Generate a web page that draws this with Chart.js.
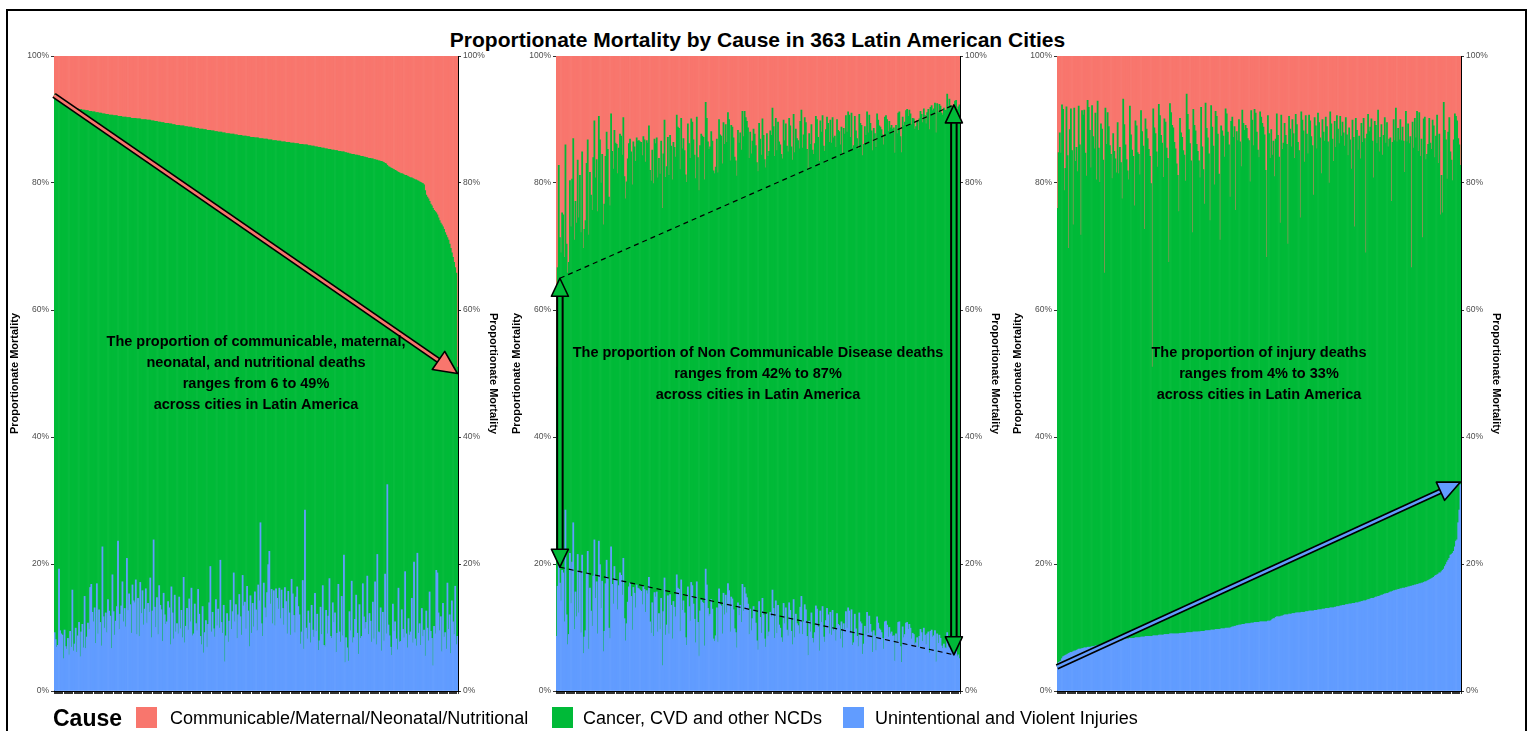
<!DOCTYPE html>
<html>
<head>
<meta charset="utf-8">
<title>Proportionate Mortality by Cause</title>
<script src="https://cdn.jsdelivr.net/npm/chart.js@4.4.1/dist/chart.umd.min.js"></script>
<style>
  html, body { margin: 0; padding: 0; background: #fff; }
  body { width: 1535px; height: 731px; position: relative; overflow: hidden; font-family: "Liberation Sans", Arial, sans-serif; }
  #frame { position: absolute; left: 6px; top: 9px; width: 1517px; height: 760px; border: 2px solid #000; }
  #title { position: absolute; left: 0; top: 27px; width: 1515px; text-align: center; font-size: 21px; font-weight: bold; line-height: 25px; }
  canvas { position: absolute; top: 0; }
  .legend-title { position: absolute; left: 53px; top: 705px; font-size: 23px; font-weight: bold; line-height: 26px; }
  .key { position: absolute; top: 707px; width: 21px; height: 21px; }
  .key-label { position: absolute; top: 707px; font-size: 18px; line-height: 22px; white-space: nowrap; }
</style>
</head>
<body>
<div id="frame"></div>
<div id="title">Proportionate Mortality by Cause in 363 Latin American Cities</div>
<canvas id="panelComm" width="492" height="731" style="left:10px"></canvas>
<canvas id="panelNcd" width="492" height="731" style="left:512px"></canvas>
<canvas id="panelInj" width="492" height="731" style="left:1013px"></canvas>
<div id="legend"></div>
<script>
const CAUSES = ['Communicable/Maternal/Neonatal/Nutritional', 'Cancer, CVD and other NCDs', 'Unintentional and Violent Injuries'];
const COLORS = ['#F8766D', '#00BA38', '#619CFF'];
const Y_TICKS = [0, 20, 40, 60, 80, 100];

// share of deaths per city (%), cities listed from lowest to highest communicable share
const commPct = [
  6.0, 6.8, 7.0, 7.1, 7.3, 7.4, 7.5, 7.6, 7.7, 7.8, 7.8, 7.9, 7.9, 8.0,
  8.1, 8.1, 8.2, 8.2, 8.2, 8.3, 8.3, 8.3, 8.4, 8.4, 8.4, 8.5,
  8.5, 8.5, 8.6, 8.6, 8.6, 8.7, 8.7, 8.7, 8.8, 8.8, 8.8, 8.9, 8.9, 8.9, 9.0,
  9.0, 9.0, 9.1, 9.1, 9.1, 9.2, 9.2, 9.2, 9.3, 9.3, 9.3, 9.3, 9.4, 9.4, 9.4,
  9.4, 9.5, 9.5, 9.5, 9.5, 9.6, 9.6, 9.6, 9.6, 9.7, 9.7, 9.7, 9.7, 9.8, 9.8, 9.8, 9.8, 9.8, 9.9, 9.9, 9.9, 9.9, 10.0, 10.0, 10.0, 10.0, 10.0, 10.1, 10.1, 10.1,
  10.1, 10.2, 10.2, 10.2, 10.3, 10.3, 10.3, 10.4, 10.4, 10.4, 10.5, 10.5, 10.5, 10.6, 10.6, 10.6, 10.6, 10.7, 10.7, 10.7, 10.8, 10.8, 10.8, 10.9, 10.9, 10.9, 10.9, 11.0, 11.0,
  11.0, 11.0, 11.1, 11.1, 11.1, 11.2, 11.2, 11.2, 11.2, 11.3, 11.3, 11.3, 11.4, 11.4, 11.4, 11.5, 11.5, 11.5, 11.5, 11.6, 11.6, 11.6, 11.7, 11.7, 11.7, 11.7, 11.8, 11.8, 11.8, 11.9, 11.9,
  11.9, 12.0, 12.0, 12.0, 12.0, 12.1, 12.1, 12.1, 12.2, 12.2, 12.2, 12.2, 12.3, 12.3, 12.3, 12.3, 12.4, 12.4, 12.4, 12.5, 12.5, 12.5, 12.5, 12.6, 12.6, 12.6, 12.6, 12.7, 12.7,
  12.7, 12.8, 12.8, 12.8, 12.8, 12.9, 12.9, 12.9, 12.9, 13.0, 13.0, 13.0, 13.0, 13.1, 13.1, 13.1, 13.1, 13.2, 13.2, 13.2, 13.2, 13.3, 13.3, 13.3, 13.3, 13.4, 13.4, 13.4, 13.4, 13.5,
  13.5, 13.5, 13.5, 13.6, 13.6, 13.6, 13.6, 13.7, 13.7, 13.7, 13.7, 13.8, 13.8, 13.8, 13.8, 13.9, 13.9, 13.9, 13.9, 14.0, 14.0, 14.0, 14.0, 14.1, 14.1, 14.1, 14.2, 14.2, 14.2, 14.3,
  14.3, 14.3, 14.4, 14.4, 14.4, 14.5, 14.5, 14.5, 14.6, 14.6, 14.6, 14.7, 14.7, 14.7, 14.8, 14.8, 14.8, 14.9, 14.9, 14.9, 15.0, 15.0, 15.0, 15.1, 15.1, 15.1, 15.2, 15.2, 15.3, 15.3,
  15.4, 15.4, 15.5, 15.5, 15.5, 15.6, 15.6, 15.6, 15.7, 15.7, 15.8, 15.8, 15.8, 15.9, 15.9, 16.0, 16.0, 16.1,
  16.1, 16.1, 16.2, 16.2, 16.3, 16.3, 16.4, 16.4, 16.5, 16.5, 16.6, 16.6,
  16.7, 16.8, 16.9, 17.0, 17.2, 17.4, 17.5, 17.6, 17.7, 17.8, 17.9, 18.0,
  18.1, 18.2, 18.3, 18.4, 18.5, 18.5, 18.6, 18.7, 18.8, 18.8, 18.9, 19.0,
  19.1, 19.2, 19.2, 19.3, 19.4, 19.5, 19.5, 19.6, 19.7, 19.8, 19.9, 20.0, 20.1, 20.3,
  21.2, 21.9, 22.2, 22.5, 22.9, 23.3, 23.6, 24.0, 24.3, 24.5, 24.7, 25.0, 25.5,
  25.9, 26.3, 26.6, 26.9, 27.3, 27.8, 28.2, 28.6, 29.0, 29.6, 30.3, 31.0, 31.7, 32.5, 33.3, 34.2, 49.0
];

// injury share for the same cities, same order
const injPct = [
  9.2, 8.1, 6.9, 7.2, 19.2, 9.5, 9.0, 8.8, 5.1, 9.6, 7.0, 6.6, 8.3, 5.7, 9.4, 6.9, 15.9, 6.3, 7.4, 9.9,
  6.1, 8.7, 10.8, 5.4, 9.3, 10.5, 6.8, 14.9, 6.7, 8.5, 10.7, 9.7, 16.3, 16.8, 12.4, 10.9, 13.1, 7.5, 16.9, 9.0,
  12.8, 10.8, 7.1, 22.7, 11.7, 9.9, 12.3, 9.2, 14.4, 12.6, 11.8, 6.7, 18.3, 12.5, 8.8, 11.0, 13.3, 23.6, 9.7, 12.1,
  13.4, 17.2, 10.9, 13.0, 10.1, 20.9, 12.7, 15.3, 13.6, 9.1, 16.7, 14.2, 13.9, 17.5, 8.9, 14.6, 8.6, 17.1, 12.2, 15.8,
  10.4, 12.9, 16.1, 10.7, 13.8, 12.4, 17.8, 8.4, 12.6, 23.8, 13.2, 10.0, 14.7, 8.9, 16.6, 13.5, 12.8, 7.8, 15.4, 12.0,
  10.5, 10.9, 14.1, 13.1, 7.3, 16.4, 12.3, 8.2, 15.1, 9.3, 10.6, 9.0, 14.8, 9.8, 12.7, 8.4, 17.9, 7.6, 10.2, 13.0,
  9.6, 14.5, 10.9, 16.2, 8.7, 9.0, 13.7, 10.6, 9.5, 16.0, 12.1, 8.6, 7.3, 13.3, 6.0, 9.2, 11.1, 6.9, 10.5, 13.9,
  19.6, 9.3, 12.4, 9.8, 8.5, 14.4, 10.3, 12.9, 9.9, 20.6, 10.8, 9.1, 13.5, 4.6, 8.7, 12.2, 7.7, 11.0, 14.3, 9.7,
  12.5, 18.6, 10.9, 13.6, 8.3, 12.0, 15.2, 11.7, 8.8, 18.2, 13.4, 14.0, 9.8, 16.5, 12.6, 7.0, 15.0, 9.1, 13.8, 10.1,
  15.6, 12.8, 9.5, 16.7, 14.2, 26.5, 10.6, 8.6, 17.0, 13.1, 11.6, 15.5, 19.9, 22.0, 13.7, 16.0, 10.6, 15.8, 10.3, 16.1,
  14.6, 12.9, 16.2, 11.4, 15.9, 13.0, 10.4, 16.3, 14.1, 9.0, 15.7, 12.3, 8.8, 17.6, 15.3, 11.9, 9.2, 14.8, 16.4, 13.3,
  12.0, 7.4, 9.3, 17.4, 6.6, 28.5, 9.9, 8.2, 12.6, 10.7, 7.6, 13.5, 9.6, 8.5, 15.4, 9.4, 12.1, 6.4, 7.9, 13.2,
  8.9, 16.6, 7.2, 7.0, 12.7, 9.0, 11.8, 17.7, 8.6, 8.3, 13.9, 10.8, 12.3, 6.1, 9.1, 16.8, 9.3, 7.7, 14.9, 8.7,
  21.4, 4.5, 8.4, 6.8, 4.7, 12.5, 9.5, 17.3, 7.6, 8.4, 11.3, 15.1, 9.1, 5.8, 13.6, 8.3, 8.6, 16.9, 11.7, 9.8,
  10.8, 18.1, 8.9, 12.2, 11.0, 7.7, 14.0, 8.2, 17.2, 7.3, 21.5, 9.3, 9.2, 13.1, 6.3, 12.4, 7.9, 18.4, 9.0, 32.5,
  10.4, 8.7, 6.9, 5.6, 13.7, 9.4, 10.9, 8.2, 6.5, 16.2, 7.7, 7.8, 12.8, 9.7, 8.4, 18.8, 9.0, 6.8, 11.4, 8.8,
  9.3, 14.6, 7.6, 20.3, 8.2, 7.1, 21.7, 9.1, 10.6, 7.2, 13.0, 8.6, 9.6, 5.5, 12.6, 9.9, 7.9, 15.6, 9.4, 8.3,
  4.0, 10.2, 9.0, 19.0, 18.6, 12.3, 9.5, 11.7, 6.2, 13.8, 8.5, 9.2, 6.6, 17.0, 9.7, 12.0, 5.9, 14.2, 10.9, 8.9,
  16.5, 7.3, 8.6
];

// NCDs are whatever is left
const ncdPct = commPct.map((c, i) => 100 - c - injPct[i]);

const cityIdx = commPct.map((_, i) => i);
const byComm = cityIdx.slice().sort((a, b) => commPct[a] - commPct[b]);
const byNcd = cityIdx.slice().sort((a, b) => ncdPct[a] - ncdPct[b]);
const byInj = cityIdx.slice().sort((a, b) => injPct[a] - injPct[b]);

const FONT = '"Liberation Sans", Arial, sans-serif';
Chart.defaults.font.family = FONT;

// annotations for each panel, in (city rank, percent)
const NOTES = {
  panelComm: {
    arrows: [{from: [-0.5, 93.8], to: [362, 50], fill: COLORS[0], shaft: [6, 2.6], head: [23, 11]}],
    dashes: [],
    text: ['The proportion of communicable, maternal,', 'neonatal, and nutritional deaths', 'ranges from 6 to 49%', 'across cities in Latin America']
  },
  panelNcd: {
    arrows: [
      {from: [3, 19.5], to: [3, 65], both: true, fill: COLORS[1], shaft: [7.5, 3.5], head: [18, 8.5]},
      {from: [357, 5.7], to: [357, 92.3], both: true, fill: COLORS[1], shaft: [7.5, 3.5], head: [18, 8.5]}
    ],
    dashes: [{from: [3, 65], to: [357, 92.3]}, {from: [3, 19.5], to: [357, 5.7]}],
    text: ['The proportion of Non Communicable Disease deaths', 'ranges from 42% to 87%', 'across cities in Latin America']
  },
  panelInj: {
    arrows: [{from: [-0.5, 3.8], to: [362, 32.9], fill: COLORS[2], shaft: [6, 2.6], head: [22, 10]}],
    dashes: [],
    text: ['The proportion of injury deaths', 'ranges from 4% to 33%', 'across cities in Latin America']
  }
};

function arrowHead(ctx, tip, ang, len, half, fill) {
  const bx = tip[0] - Math.cos(ang) * len, by = tip[1] - Math.sin(ang) * len;
  const nx = -Math.sin(ang) * half, ny = Math.cos(ang) * half;
  ctx.beginPath();
  ctx.moveTo(tip[0], tip[1]);
  ctx.lineTo(bx + nx, by + ny);
  ctx.lineTo(bx - nx, by - ny);
  ctx.closePath();
  ctx.fillStyle = fill;
  ctx.fill();
  ctx.lineWidth = 1.6;
  ctx.lineJoin = 'round';
  ctx.strokeStyle = '#000';
  ctx.stroke();
}

function drawArrow(ctx, a, b, arrow) {
  const ang = Math.atan2(b[1] - a[1], b[0] - a[0]);
  const cut = arrow.head[0] * 0.85;
  const e = [b[0] - Math.cos(ang) * cut, b[1] - Math.sin(ang) * cut];
  const s = arrow.both ? [a[0] + Math.cos(ang) * cut, a[1] + Math.sin(ang) * cut] : a;
  ctx.save();
  ctx.lineCap = 'butt';
  ctx.beginPath();
  ctx.moveTo(s[0], s[1]);
  ctx.lineTo(e[0], e[1]);
  ctx.strokeStyle = '#000';
  ctx.lineWidth = arrow.shaft[0];
  ctx.stroke();
  ctx.strokeStyle = arrow.fill;
  ctx.lineWidth = arrow.shaft[1];
  ctx.stroke();
  arrowHead(ctx, b, ang, arrow.head[0], arrow.head[1], arrow.fill);
  if (arrow.both) arrowHead(ctx, a, ang + Math.PI, arrow.head[0], arrow.head[1], arrow.fill);
  ctx.restore();
}

const notesPlugin = {
  id: 'notes',
  afterDraw(chart) {
    const {ctx, chartArea: area, scales: {y}} = chart;
    const note = NOTES[chart.canvas.id];
    const n = chart.data.labels.length;
    const pt = p => [area.left + (p[0] + 0.5) * area.width / n, y.getPixelForValue(p[1])];

    ctx.save();
    ctx.setLineDash([5, 4]);
    ctx.lineWidth = 1.2;
    ctx.strokeStyle = '#000';
    note.dashes.forEach(d => {
      const a = pt(d.from), b = pt(d.to);
      ctx.beginPath();
      ctx.moveTo(a[0], a[1]);
      ctx.lineTo(b[0], b[1]);
      ctx.stroke();
    });
    ctx.restore();

    note.arrows.forEach(ar => drawArrow(ctx, pt(ar.from), pt(ar.to), ar));

    // centred text block
    ctx.save();
    ctx.font = 'bold 14.5px ' + FONT;
    ctx.fillStyle = '#000';
    ctx.textAlign = 'center';
    ctx.textBaseline = 'middle';
    const cx = (area.left + area.right) / 2;
    const cy = y.getPixelForValue(50);
    const lh = 21;
    note.text.forEach((line, k) => {
      ctx.fillText(line, cx, cy + (k - (note.text.length - 1) / 2) * lh);
    });
    ctx.restore();

    // axis titles on both sides
    ctx.save();
    ctx.font = 'bold 11px ' + FONT;
    ctx.fillStyle = '#000';
    ctx.textAlign = 'center';
    ctx.textBaseline = 'middle';
    const my = (area.top + area.bottom) / 2;
    ctx.translate(area.left - 39, my);
    ctx.rotate(-Math.PI / 2);
    ctx.fillText('Proportionate Mortality', 0, 0);
    ctx.restore();
    ctx.save();
    ctx.font = 'bold 11px ' + FONT;
    ctx.fillStyle = '#000';
    ctx.textAlign = 'center';
    ctx.textBaseline = 'middle';
    ctx.translate(area.right + 35, my);
    ctx.rotate(Math.PI / 2);
    ctx.fillText('Proportionate Mortality', 0, 0);
    ctx.restore();
  }
};

function yAxis(position) {
  return {
    position: position,
    stacked: position === 'left',
    min: 0,
    max: 100,
    z: 1,
    afterBuildTicks: s => { s.ticks = Y_TICKS.map(v => ({value: v})); },
    afterFit: s => { s.width = 44; },
    ticks: {
      callback: v => v + '%',
      color: '#4D4D4D',
      padding: 2,
      font: {size: 8.5}
    },
    grid: {display: true, drawOnChartArea: false, drawTicks: true, tickLength: 3, color: '#333333'},
    border: {display: true, color: '#000', width: 1}
  };
}

function makePanel(id, order) {
  const labels = order.map(i => String(i + 1));
  return new Chart(document.getElementById(id), {
    type: 'bar',
    data: {
      labels: labels,
      datasets: [
        {label: CAUSES[2], data: order.map(i => injPct[i]), backgroundColor: COLORS[2]},
        {label: CAUSES[1], data: order.map(i => ncdPct[i]), backgroundColor: COLORS[1]},
        {label: CAUSES[0], data: order.map(i => commPct[i]), backgroundColor: COLORS[0]}
      ]
    },
    options: {
      responsive: false,
      animation: false,
      events: [],
      layout: {padding: {top: 56, bottom: 34, left: 0, right: 0}},
      datasets: {bar: {barPercentage: 1, categoryPercentage: 1, borderWidth: 0}},
      plugins: {legend: {display: false}, tooltip: {enabled: false}, title: {display: false}},
      scales: {
        x: {
          stacked: true,
          z: 1,
          afterFit: s => { s.height = 6; },
          ticks: {display: false, autoSkip: false},
          grid: {display: true, drawOnChartArea: false, drawTicks: true, tickLength: 3, color: '#333333'},
          border: {display: true, color: '#000', width: 1}
        },
        y: yAxis('left'),
        y2: yAxis('right')
      }
    },
    plugins: [notesPlugin]
  });
}

makePanel('panelComm', byComm);
makePanel('panelNcd', byNcd);
makePanel('panelInj', byInj);

// shared legend under the panels
const legend = document.getElementById('legend');
legend.innerHTML = '<div class="legend-title">Cause</div>';
const KEY_X = [136, 552, 843];
const LABEL_X = [170, 583, 875];
CAUSES.forEach((c, i) => {
  legend.innerHTML += '<div class="key" style="left:' + KEY_X[i] + 'px;background:' + COLORS[i] + '"></div>' +
    '<div class="key-label" style="left:' + LABEL_X[i] + 'px">' + c + '</div>';
});
</script>
</body>
</html>
